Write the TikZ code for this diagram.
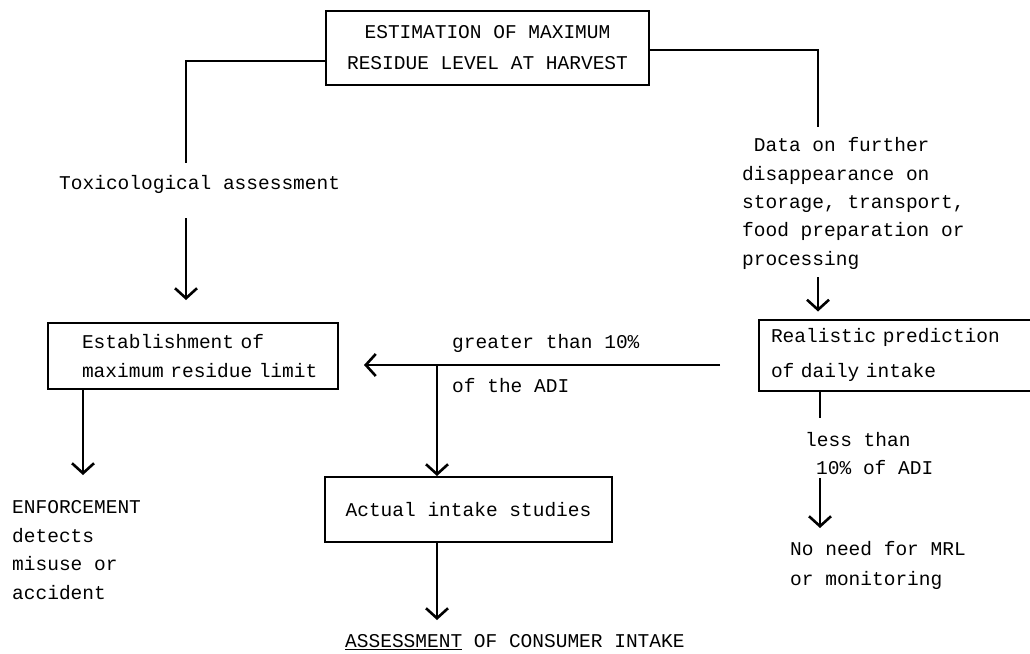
\documentclass[tikz,border=0pt]{standalone}
\usepackage{fontspec}
\setmonofont{Liberation Mono}
\usetikzlibrary{arrows.meta}
\newcommand{\tw}[1]{\ttfamily\fontsize{19.5}{#1}\selectfont}
\begin{document}
\begin{tikzpicture}[x=1pt,y=-1pt,
  every node/.style={font=\tw{29}, inner sep=0pt},
  box/.style={draw, line width=2pt, rectangle},
  conn/.style={line width=1.8pt},
  arr/.style={conn, -{Straight Barb[length=10pt,width=22pt,line width=2.6pt]}},
  txt/.style={align=left, anchor=west}]
\useasboundingbox (0,0) rectangle (1030,653);

% boxes
\node[box, minimum width=323pt, minimum height=74pt, align=center, font=\tw{31}] (top) at (487.5,48)
  {ESTIMATION OF MAXIMUM\\RESIDUE LEVEL AT HARVEST};
\node[box, minimum width=290pt, minimum height=66pt, text width=290pt, align=left] (est) at (193,356)
  {\hspace*{34pt}Establishment of\\\hspace*{34pt}maximum residue limit};
\node[box, minimum width=310pt, minimum height=71pt, text width=310pt, align=left, font=\tw{35}] (real) at (914,355)
  {\hspace*{12pt}Realistic prediction\\\hspace*{12pt}of daily intake};
\node[box, minimum width=287pt, minimum height=65pt] (act) at (468.5,509.5) {Actual intake studies};

% texts
\node[txt] (tox) at (59,184) {Toxicological assessment};
\node[txt, font=\tw{28.3}] (data) at (742,203.5)
  {\phantom{D}Data on further\\disappearance on\\storage, transport,\\food preparation or\\processing};
\node[txt] (gt) at (452,343) {greater than 10\%};
\node[txt] (ofadi) at (452,386) {of the ADI};
\node[txt, font=\tw{28.5}] (enf) at (12,550) {ENFORCEMENT\\detects\\misuse or\\accident};
\node[txt] (assess) at (345,642) {\underline{ASSESSMENT} OF CONSUMER INTAKE};
\node[txt] (less) at (805,440) {less than};
\node[txt] (lessb) at (816,468) {10\% of ADI};
\node[txt, font=\tw{30}] (noneed) at (790,565) {No need for MRL\\or monitoring};

% coordinates
\coordinate (lc) at (186,61);
\coordinate (lend) at (186,163);
\coordinate (ta) at (186,218);
\coordinate (rc) at (818,50);
\coordinate (rend) at (818,127);
\coordinate (da) at (818,277);
\coordinate (hr) at (720,365);
\coordinate (hv) at (437,365);
\coordinate (ea) at (83,0);
\coordinate (etip) at (83,475);
\coordinate (atip) at (437,620);
\coordinate (rb) at (820,418);
\coordinate (lt) at (820,478);
\coordinate (ltip) at (820,528);

% connectors
\draw[conn] (top.west |- lc) -- (lc) -- (lend);
\draw[conn] (top.east |- rc) -- (rc) -- (rend);
\draw[arr, shorten >=22pt] (ta) -- (ta |- est.north);
\draw[arr, shorten >=7pt] (da) -- (da |- real.north);
\draw[arr, shorten >=25pt] (hr) -- (hr -| est.east);
\draw[arr] (hv) -- (hv |- act.north);
\draw[arr] (est.south -| ea) -- (etip);
\draw[arr] (act.south -| hv) -- (atip);
\draw[conn] (real.south -| rb) -- (rb);
\draw[arr] (lt) -- (ltip);
\end{tikzpicture}
\end{document}
